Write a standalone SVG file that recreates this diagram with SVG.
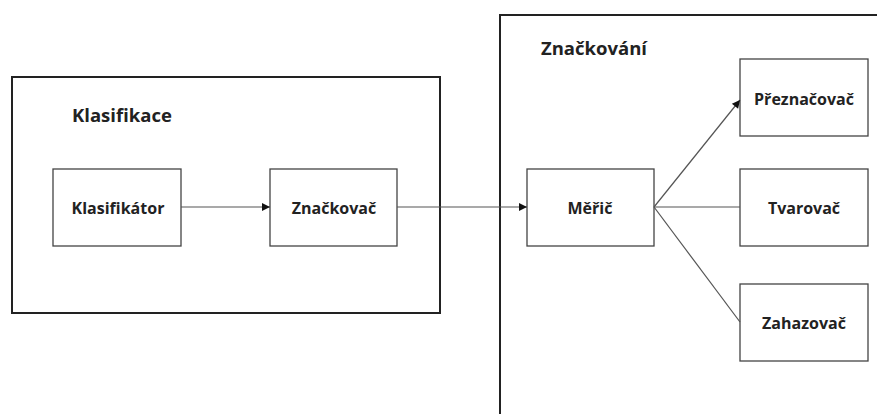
<svg xmlns="http://www.w3.org/2000/svg" width="877" height="414" viewBox="0 0 877 414">
<style>
.grp{fill:none;stroke:#222;stroke-width:2}
.box{fill:#fff;stroke:#444;stroke-width:1.3}
.t{font-family:"Open Sans","Liberation Sans",sans-serif;font-weight:bold;font-size:16px;fill:#222;text-anchor:middle}
.gt{font-family:"Open Sans","Liberation Sans",sans-serif;font-weight:bold;font-size:18.5px;fill:#222}
.c{fill:none;stroke:#555;stroke-width:1.2}
</style>
<defs>
<marker id="ah" markerWidth="10" markerHeight="10" refX="9" refY="5" orient="auto" markerUnits="userSpaceOnUse">
<path d="M1,1 L9,5 L1,9 z" fill="#111"/>
</marker>
</defs>
<rect width="877" height="414" fill="#fff"/>
<g id="klasifikace">
<rect class="grp" x="12" y="77" width="428" height="236"/>
<text class="gt" x="72" y="122">Klasifikace</text>
</g>
<g id="znackovani">
<path class="grp" d="M500,416 V15 H879"/>
<text class="gt" x="541" y="55">Značkování</text>
</g>
<g id="klasifikator">
<rect class="box" x="53" y="169" width="128" height="77"/>
<text class="t" x="118" y="214">Klasifikátor</text>
</g>
<g id="znackovac">
<rect class="box" x="270" y="169" width="127" height="77"/>
<text class="t" x="334" y="214">Značkovač</text>
</g>
<g id="meric">
<rect class="box" x="527" y="169" width="127" height="77"/>
<text class="t" x="590" y="214">Měřič</text>
</g>
<g id="preznacovac">
<rect class="box" x="740" y="59" width="128" height="77"/>
<text class="t" x="804" y="105">Přeznačovač</text>
</g>
<g id="tvarovac">
<rect class="box" x="740" y="169" width="128" height="77"/>
<text class="t" x="804" y="214">Tvarovač</text>
</g>
<g id="zahazovac">
<rect class="box" x="740" y="284" width="128" height="77"/>
<text class="t" x="804" y="329">Zahazovač</text>
</g>
<g id="connectors">
<line class="c" x1="181" y1="207" x2="270" y2="207" marker-end="url(#ah)"/>
<line class="c" x1="397" y1="207" x2="527" y2="207" marker-end="url(#ah)"/>
<line class="c" x1="654" y1="207" x2="740" y2="100" marker-end="url(#ah)"/>
<line class="c" x1="654" y1="207" x2="740" y2="207"/>
<line class="c" x1="654" y1="207" x2="740" y2="322"/>
</g>
</svg>
